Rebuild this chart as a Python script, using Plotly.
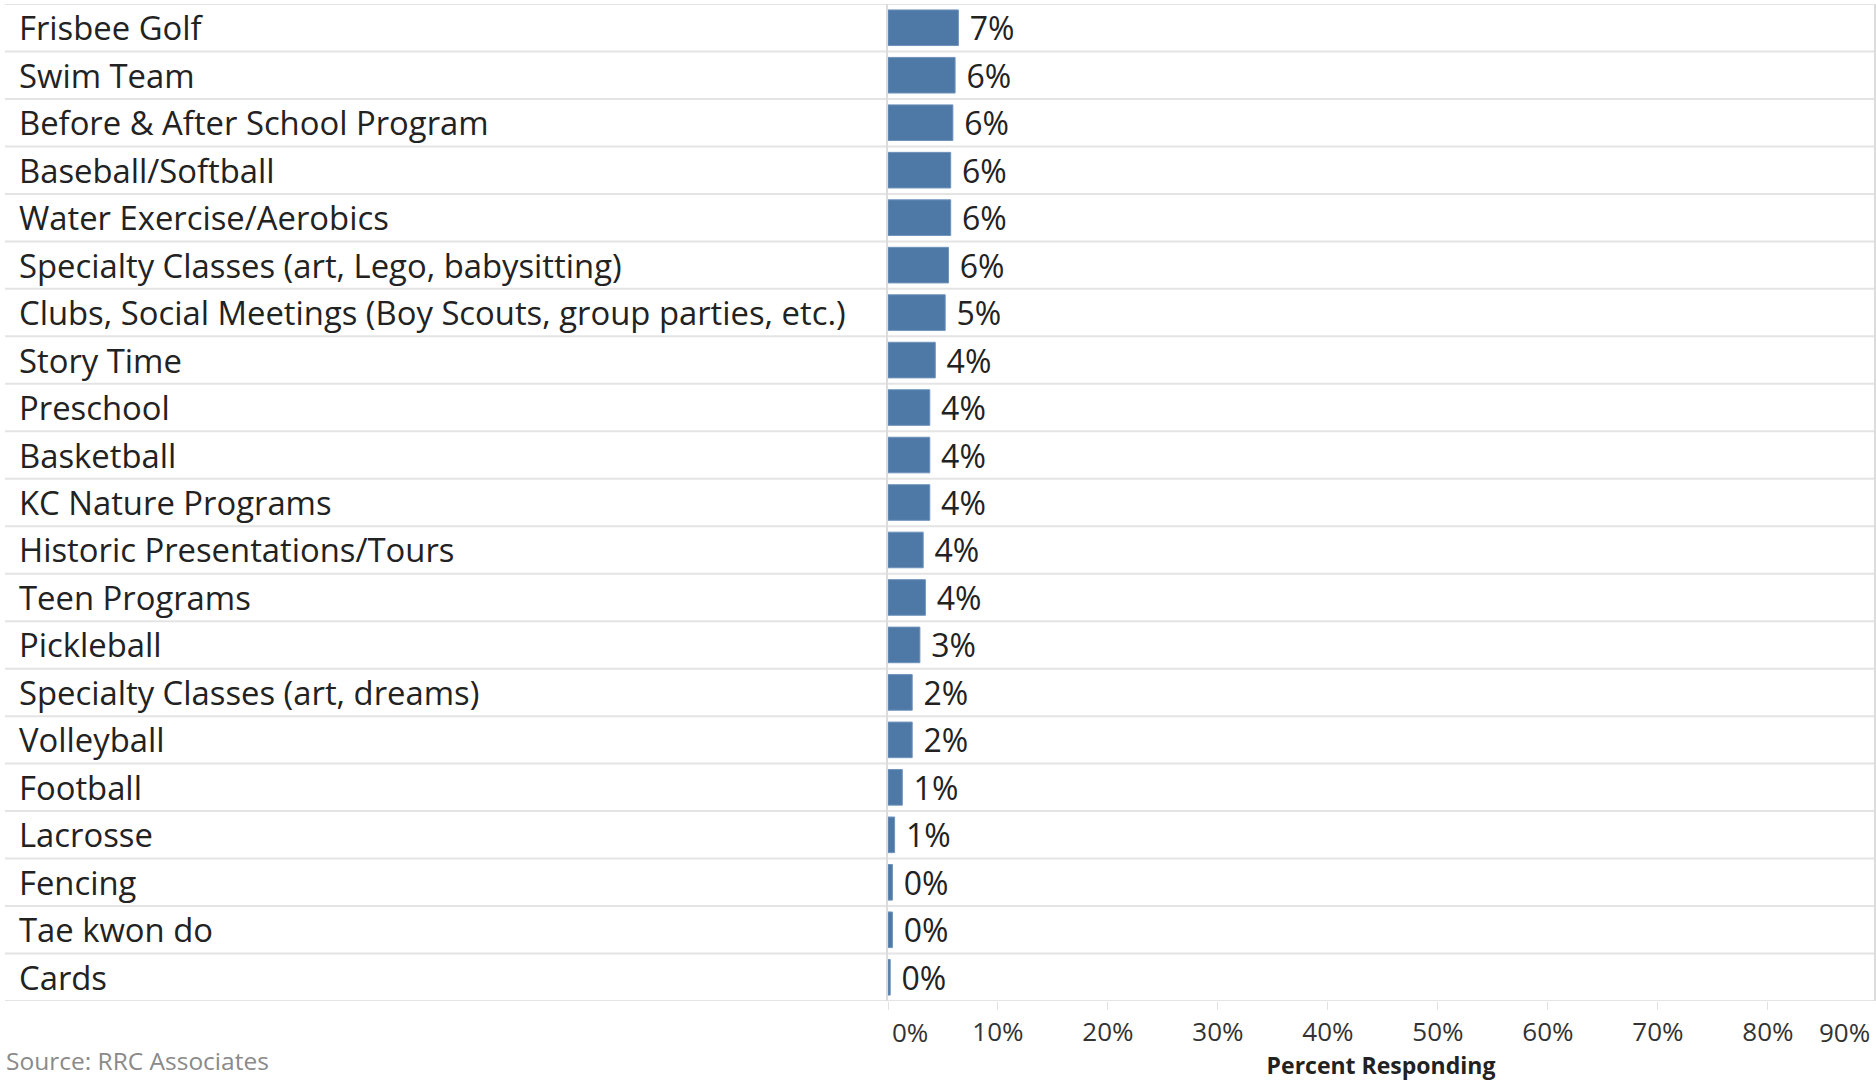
import plotly.graph_objects as go

categories = [
    "Frisbee Golf", "Swim Team", "Before & After School Program", "Baseball/Softball",
    "Water Exercise/Aerobics", "Specialty Classes (art, Lego, babysitting)",
    "Clubs, Social Meetings (Boy Scouts, group parties, etc.)", "Story Time", "Preschool",
    "Basketball", "KC Nature Programs", "Historic Presentations/Tours", "Teen Programs",
    "Pickleball", "Specialty Classes (art, dreams)", "Volleyball", "Football", "Lacrosse",
    "Fencing", "Tae kwon do", "Cards",
]
values = [0.064, 0.061, 0.059, 0.057, 0.057, 0.055, 0.052, 0.043, 0.038, 0.038, 0.038,
          0.032, 0.034, 0.029, 0.022, 0.022, 0.013, 0.006, 0.004, 0.004, 0.002]
value_labels = ["7%", "6%", "6%", "6%", "6%", "6%", "5%", "4%", "4%", "4%", "4%",
                "4%", "4%", "3%", "2%", "2%", "1%", "1%", "0%", "0%", "0%"]
tick_vals = [0.0, 0.1, 0.2, 0.3, 0.4, 0.5, 0.6, 0.7, 0.8]
tick_text = ["", "10%", "20%", "30%", "40%", "50%", "60%", "70%", "80%"]
edge_ticks = ["0%", "90%"]
x_max = 0.8965

FONT = "Open Sans"
W, H = 1876, 1081
ML, MR, MT, MB = 888, 2, 4, 80
pw = W - ML - MR
ph = H - MT - MB

def px_x(px):
    return (px - ML) / pw

def px_y(py):
    return (H - MB - py) / ph

fig = go.Figure()
fig.add_trace(go.Bar(
    x=values, y=categories, orientation="h",
    marker=dict(color="#4e79a7", line=dict(color="#6f93bb", width=1)),
    text=value_labels, texttemplate=" %{text}", textposition="outside", cliponaxis=False,
    constraintext="none",
    textfont=dict(family=FONT, size=32, color="#222"),
    hoverinfo="skip",
))

shapes = []
n = len(categories)
for k in range(n + 1):
    shapes.append(dict(type="line", xref="paper", yref="y",
                       x0=px_x(5), x1=1, y0=k - 0.5, y1=k - 0.5,
                       line=dict(color="#e4e4e4", width=2), layer="below"))

annotations = []
for c in categories:
    annotations.append(dict(xref="paper", yref="y", x=px_x(17), y=c, text=c,
                            showarrow=False, xanchor="left", yanchor="middle",
                            font=dict(family=FONT, size=32.8, color="#222")))
annotations.append(dict(xref="x domain", yref="paper", x=0, y=px_y(1032), text=edge_ticks[0],
                        showarrow=False, xanchor="left", yanchor="middle", xshift=2,
                        font=dict(family=FONT, size=26, color="#333")))
annotations.append(dict(xref="x domain", yref="paper", x=1, y=px_y(1032), text=edge_ticks[1],
                        showarrow=False, xanchor="right", yanchor="middle", xshift=-2,
                        font=dict(family=FONT, size=26, color="#333")))
annotations.append(dict(xref="paper", yref="paper", x=px_x(4), y=px_y(1060),
                        text="Source: RRC Associates", showarrow=False,
                        xanchor="left", yanchor="middle",
                        font=dict(family=FONT, size=24.5, color="#8a8a8a")))

fig.update_layout(
    width=W, height=H,
    margin=dict(l=ML, r=MR, t=MT, b=MB, pad=0, autoexpand=False),
    paper_bgcolor="white", plot_bgcolor="white",
    showlegend=False, bargap=0.25,
    shapes=shapes, annotations=annotations,
    xaxis=dict(range=[0, x_max], tickvals=tick_vals, ticktext=tick_text,
               showgrid=False, zeroline=False, showline=False, automargin=False,
               ticks="outside", ticklen=8, tickcolor="#e0e0e0", tickwidth=1,
               tickfont=dict(family=FONT, size=26, color="#333"),
               title=dict(text="<b>Percent Responding</b>", standoff=20,
                          font=dict(family=FONT, size=23, color="#222"))),
    yaxis=dict(range=[n - 0.5, -0.5], autorange=False, showticklabels=False, showgrid=False,
               zeroline=False, showline=True, mirror=True, linecolor="#dcdcdc",
               linewidth=2, ticks="", automargin=False),
)

fig.write_html("out.html", config={"displayModeBar": False},
               post_script="document.body.style.margin='0';document.body.style.overflow='hidden';")
